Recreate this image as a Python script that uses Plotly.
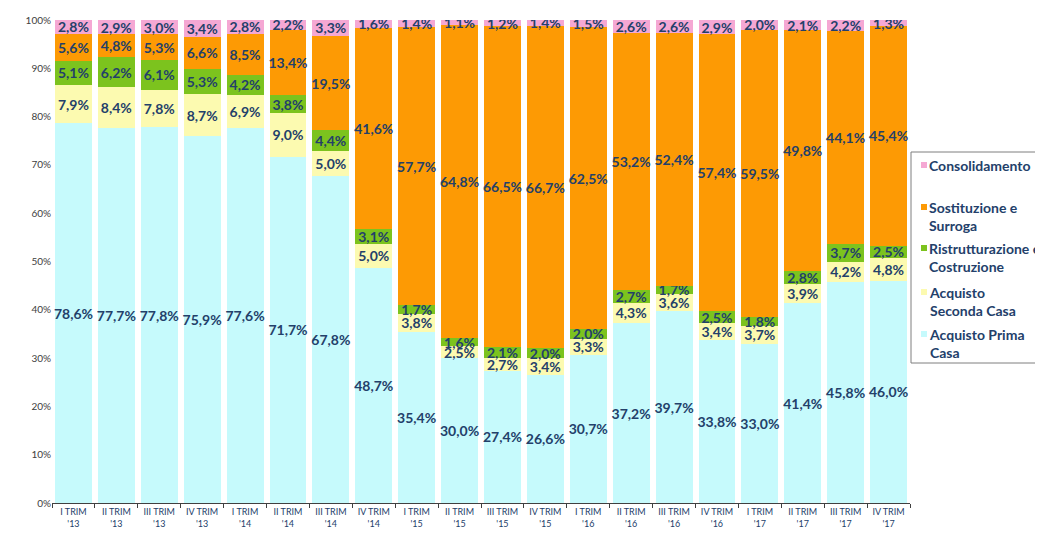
import plotly.graph_objects as go

categories = ["I TRIM<br>'13", "II TRIM<br>'13", "III TRIM<br>'13", "IV TRIM<br>'13",
              "I TRIM<br>'14", "II TRIM<br>'14", "III TRIM<br>'14", "IV TRIM<br>'14",
              "I TRIM<br>'15", "II TRIM<br>'15", "III TRIM<br>'15", "IV TRIM<br>'15",
              "I TRIM<br>'16", "II TRIM<br>'16", "III TRIM<br>'16", "IV TRIM<br>'16",
              "I TRIM<br>'17", "II TRIM<br>'17", "III TRIM<br>'17", "IV TRIM<br>'17"]

prima_casa = [78.6, 77.7, 77.8, 75.9, 77.6, 71.7, 67.8, 48.7, 35.4, 30.0,
              27.4, 26.6, 30.7, 37.2, 39.7, 33.8, 33.0, 41.4, 45.8, 46.0]
seconda_casa = [7.9, 8.4, 7.8, 8.7, 6.9, 9.0, 5.0, 5.0, 3.8, 2.5,
                2.7, 3.4, 3.3, 4.3, 3.6, 3.4, 3.7, 3.9, 4.2, 4.8]
ristrutturazione = [5.1, 6.2, 6.1, 5.3, 4.2, 3.8, 4.4, 3.1, 1.7, 1.6,
                    2.1, 2.0, 2.0, 2.7, 1.7, 2.5, 1.8, 2.8, 3.7, 2.5]
sostituzione = [5.6, 4.8, 5.3, 6.6, 8.5, 13.4, 19.5, 41.6, 57.7, 64.8,
                66.5, 66.7, 62.5, 53.2, 52.4, 57.4, 59.5, 49.8, 44.1, 45.4]
consolidamento = [2.8, 2.9, 3.0, 3.4, 2.8, 2.2, 3.3, 1.6, 1.4, 1.1,
                  1.2, 1.4, 1.5, 2.6, 2.6, 2.9, 2.0, 2.1, 2.2, 1.3]

series_names = ["Acquisto Prima<br>Casa", "Acquisto<br>Seconda Casa",
                "Ristrutturazione e<br>Costruzione", "Sostituzione e<br>Surroga",
                "Consolidamento"]
series_values = [prima_casa, seconda_casa, ristrutturazione, sostituzione, consolidamento]
series_colors = ["#c6fafc", "#fcfab0", "#7cc31e", "#fd9a04", "#f5a8d4"]

FONT = "Lato"
TEXT_COLOR = "#23406a"

# plot-area geometry (figure pixels) used to place the hand-drawn legend
W, H = 1035, 527
ML, MR, MT, MB = 44, 133, 12, 32
PW, PH = W - ML - MR, H - MT - MB


def px_x(x):
    return (x - ML) / PW


def px_y(y):
    return (H - MB - y) / PH


fig = go.Figure()
for name, vals, color in zip(series_names, series_values, series_colors):
    fig.add_trace(go.Bar(
        name=name, x=categories, y=vals,
        marker=dict(color=color, line=dict(width=0)),
        texttemplate="%{y:.1f}%",
        textposition="inside", insidetextanchor="middle",
        textangle=0, constraintext="none",
        textfont=dict(family=FONT, size=14, color=TEXT_COLOR, weight="bold"),
        hoverinfo="x+y+name", showlegend=False,
    ))

# Legend (drawn manually to mimic the original, clipped at the right edge)
shapes = [dict(type="rect", xref="paper", yref="paper",
               x0=px_x(903), x1=px_x(1060), y0=px_y(355), y1=px_y(144),
               line=dict(color="#7f7f7f", width=1), fillcolor="white", layer="above")]
annotations = []
legend_first_line = [326, 284, 240, 199, 157]   # figure-pixel y of first text line
for name, color, ly in zip(series_names, series_colors, legend_first_line):
    shapes.append(dict(type="rect", xref="paper", yref="paper",
                       x0=px_x(913), x1=px_x(919), y0=px_y(ly + 3), y1=px_y(ly - 3),
                       line=dict(width=0), fillcolor=color, layer="above"))
    annotations.append(dict(
        xref="paper", yref="paper", x=px_x(919), y=px_y(ly - 10),
        xanchor="left", yanchor="top", align="left", showarrow=False,
        text=name, font=dict(family=FONT, size=14, color=TEXT_COLOR, weight="bold"),
    ))

fig.update_layout(
    barmode="stack", bargap=0.14,
    separators=",.",
    width=W, height=H,
    margin=dict(l=ML, r=MR, t=MT, b=MB),
    paper_bgcolor="white", plot_bgcolor="white",
    uniformtext=dict(minsize=14, mode="show"),
    font=dict(family=FONT, color=TEXT_COLOR),
    showlegend=False,
    shapes=shapes, annotations=annotations,
)
fig.update_xaxes(
    showline=True, linecolor="#404040", linewidth=1,
    ticks="outside", tickson="boundaries", ticklen=4, tickcolor="#404040",
    tickfont=dict(family=FONT, size=9, color=TEXT_COLOR),
    showgrid=False, automargin=False,
)
fig.update_yaxes(
    range=[0, 100], dtick=10, ticksuffix="%",
    showgrid=False, showline=False, zeroline=False,
    tickfont=dict(family=FONT, size=10, color="#404040"),
    automargin=False,
)

fig.write_html("out.html")
